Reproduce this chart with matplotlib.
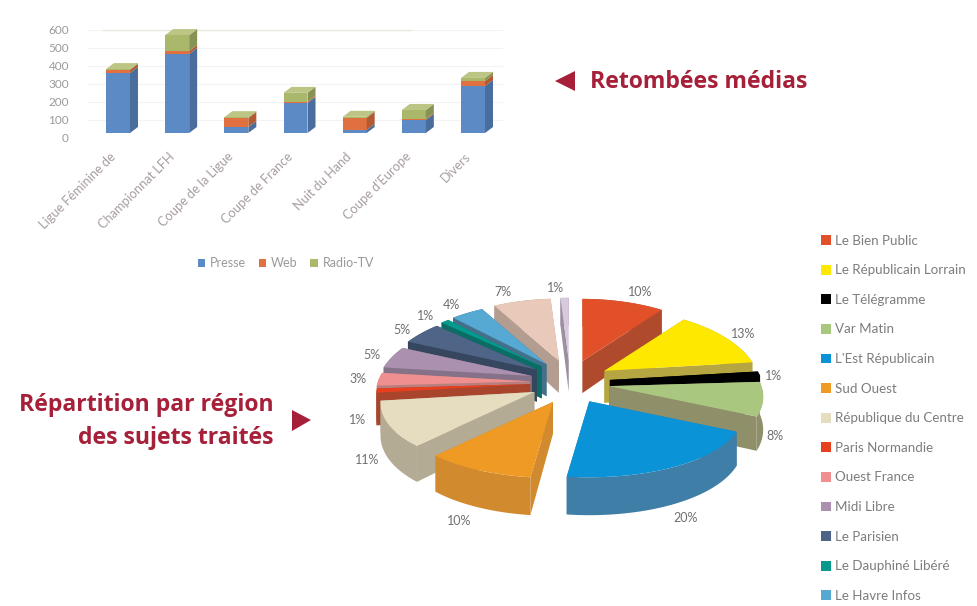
import numpy as np
import matplotlib
matplotlib.use("Agg")
import matplotlib.pyplot as plt
from matplotlib.patches import Polygon, Patch
from matplotlib.transforms import Affine2D
from matplotlib.colors import to_rgb

# ---------- data ----------
bar_categories = ["Ligue Féminine de", "Championnat LFH", "Coupe de la Ligue", "Coupe de France",
                  "Nuit du Hand", "Coupe d'Europe", "Divers"]
presse = [333, 439, 33, 167, 17, 72, 261]
web = [17, 16, 50, 6, 67, 6, 28]
radio_tv = [5, 89, 5, 50, 6, 50, 17]
bar_series = ["Presse", "Web", "Radio-TV"]
y_ticks = [0, 100, 200, 300, 400, 500, 600]

pie_names = ["Le Bien Public", "Le Républicain Lorrain", "Le Télégramme", "Var Matin", "L'Est Républicain",
             "Sud Ouest", "République du Centre", "Paris Normandie", "Ouest France", "Midi Libre",
             "Le Parisien", "Le Dauphiné Libéré", "Le Havre Infos"]
pie_values = [10, 13, 1, 8, 20, 10, 11, 1, 3, 5, 5, 1, 4, 7, 1]

# ---------- style ----------
FONT = ["Lato", "DejaVu Sans"]
plt.rcParams["font.family"] = FONT
bar_colors = ["#5b8ac4", "#e0703f", "#a9b86a"]
pie_colors = ["#e2502a", "#ffe800", "#000000", "#a9c77f", "#0b93d8", "#ef9a25", "#e6dcc0",
              "#e8401f", "#ef8f8f", "#ab90b0", "#4e6587", "#069a8e", "#56a9d3", "#e9c9b9", "#d8c9de"]
wall_colors = ["#b04a2c", "#b5a642", "#000000", "#8f8f6a", "#3f7ea6", "#d28a2e", "#b3ab93",
               "#a8452c", "#b97f7f", "#857289", "#36465e", "#0a6e66", "#45708c", "#b39c90", "#9b8fa0"]
pct_xy = [(640, 292), (743, 334), (774, 376), (775, 436), (686, 518), (459, 521), (367, 460), (358, 420),
          (358, 379), (372, 355), (402, 330), (426, 316), (451, 305), (503, 292), (556, 288)]
TXT = "#9a9a9a"
RED = "#a6203a"
TITLE_FONT = ["Open Sans", "DejaVu Sans"]
W, H = 978, 606

fig = plt.figure(figsize=(W / 100, H / 100), dpi=100, facecolor="white")
full = fig.add_axes([0, 0, 1, 1])
full.set_xlim(0, W)
full.set_ylim(H, 0)
full.axis("off")

# ---------- 3D-looking stacked bars ----------
ax = fig.add_axes([88.4 / W, (H - 138) / H, (502.6 - 88.4) / W, 108 / H])
ax.set_xlim(-0.5, 6.5)
ax.set_ylim(0, 600)
for s in ax.spines.values():
    s.set_visible(False)
ax.set_facecolor("none")
ax.set_yticks(y_ticks)
ax.set_xticks(range(len(bar_categories)))
ax.set_xticklabels(bar_categories, rotation=45, ha="right", va="top", rotation_mode="anchor",
                   fontsize=9.2, color="#a89e9e")
ax.tick_params(axis="both", length=0)
ax.tick_params(axis="y", labelsize=8.5, labelcolor=TXT, pad=14)
ax.tick_params(axis="x", pad=11)
for lab in ax.get_xticklabels():
    lab.set_transform(lab.get_transform() + Affine2D().translate(-9, 3))
ax.yaxis.grid(True, color="#f3f3f3", lw=0.8)
ax.set_axisbelow(True)
ax.plot([-0.25, 4.95], [600, 600], color="#e6eadf", lw=1, clip_on=False, zorder=1)

front = ax.transData + Affine2D().translate(0, 5)
bw = 24 / 59.2
ddx, ddy = 8 / 59.2, 6 / 0.18


def dark(c, k=0.8):
    return tuple(v * k for v in to_rgb(c))


x = np.arange(len(bar_categories))
bottom = np.zeros(len(x))
for vals, col, name in zip([presse, web, radio_tv], bar_colors, bar_series):
    vals = np.array(vals, float)
    ax.bar(x, vals, bw, bottom=bottom, color=col, transform=front, clip_on=False, zorder=3)
    for xi, b, v in zip(x, bottom, vals):
        r = xi + bw / 2
        ax.add_patch(Polygon([(r, b), (r + ddx, b + ddy), (r + ddx, b + v + ddy), (r, b + v)], closed=True,
                             fc=dark(col), ec="none", transform=front, clip_on=False, zorder=3))
    bottom += vals
for xi, top in zip(x, bottom):
    l, r = xi - bw / 2, xi + bw / 2
    ax.add_patch(Polygon([(l, top), (l + ddx, top + ddy), (r + ddx, top + ddy), (r, top)], closed=True,
                         fc="#bcc584", ec="none", transform=front, clip_on=False, zorder=3))

handles = [Patch(fc=c, ec="none") for c in bar_colors]
bar_legend = full.legend(handles, bar_series, loc="center", bbox_to_anchor=(286, 263), bbox_transform=full.transData,
                         ncol=3, frameon=False, fontsize=9, labelcolor=TXT, handlelength=0.6, handleheight=0.6,
                         handletextpad=0.4, columnspacing=1.0)
full.add_artist(bar_legend)

# ---------- exploded 3D-looking pie ----------
CX, CY = 570, 382
RX, RK, PX, PY = 152, 68.4, 0.156, 0.10
EXPLODE, EK, THICK = 40, 0.55, 32


def rim(theta, off):
    fx = 1 / (1 + PX * np.cos(theta))
    fy = 1 / (1 + PY * np.cos(theta))
    return off[0] + RX * np.sin(theta) * fx, off[1] - RK * np.cos(theta) * fy, THICK * fx


fractions = np.array(pie_values, float) / sum(pie_values)
edges = np.concatenate([[0], np.cumsum(fractions)]) * 2 * np.pi
wedges = []
for i in range(len(pie_values)):
    a0, a1 = edges[i], edges[i + 1]
    m = (a0 + a1) / 2
    off = (CX + EXPLODE * np.sin(m), CY - EXPLODE * EK * np.cos(m))
    t = np.linspace(a0, a1, 60)
    rx, ry, th = rim(t, off)
    wedges.append((off[1] - 10 * np.cos(m), i, off, rx, ry, th))

for _, i, off, rx, ry, th in sorted(wedges, key=lambda w: w[0]):
    top = np.column_stack([np.r_[off[0], rx], np.r_[off[1], ry]])
    for k in (0, -1):
        full.add_patch(Polygon([(off[0], off[1]), (rx[k], ry[k]), (rx[k], ry[k] + th[k]), (off[0], off[1] + THICK)],
                               closed=True, fc=wall_colors[i], ec="none"))
    wall = np.column_stack([np.r_[rx, rx[::-1]], np.r_[ry, (ry + th)[::-1]]])
    full.add_patch(Polygon(wall, closed=True, fc=wall_colors[i], ec="none"))
    full.add_patch(Polygon(top, closed=True, fc=pie_colors[i], ec="none"))

for v, (px, py) in zip(pie_values, pct_xy):
    full.text(px, py, f"{v}%", ha="center", va="center", fontsize=9, color="#6f6f6f")

# pie legend
handles = [Patch(fc=c, ec="none") for c in pie_colors[:len(pie_names)]]
full.legend(handles, pie_names, loc="upper left", bbox_to_anchor=(818, 232), bbox_transform=full.transData,
            frameon=False, fontsize=9.6, labelcolor="#7c7c7c", handlelength=0.75, handleheight=0.75,
            handletextpad=0.3, labelspacing=1.32, borderpad=0.2, borderaxespad=0)

# ---------- titles ----------
full.text(590, 82, "Retombées médias", ha="left", va="center", fontsize=16.6, fontweight="bold",
          color=RED, family=TITLE_FONT)
full.text(274, 405, "Répartition par région", ha="right", va="center", fontsize=16.6, fontweight="bold",
          color=RED, family=TITLE_FONT)
full.text(274, 438, "des sujets traités", ha="right", va="center", fontsize=16.6, fontweight="bold",
          color=RED, family=TITLE_FONT)
full.add_patch(Polygon([(555, 81), (575, 71), (575, 91)], closed=True, fc=RED, ec="none"))
full.add_patch(Polygon([(311, 420), (292, 410), (292, 431)], closed=True, fc=RED, ec="none"))

fig.savefig("out.png", dpi=100, facecolor="white")
